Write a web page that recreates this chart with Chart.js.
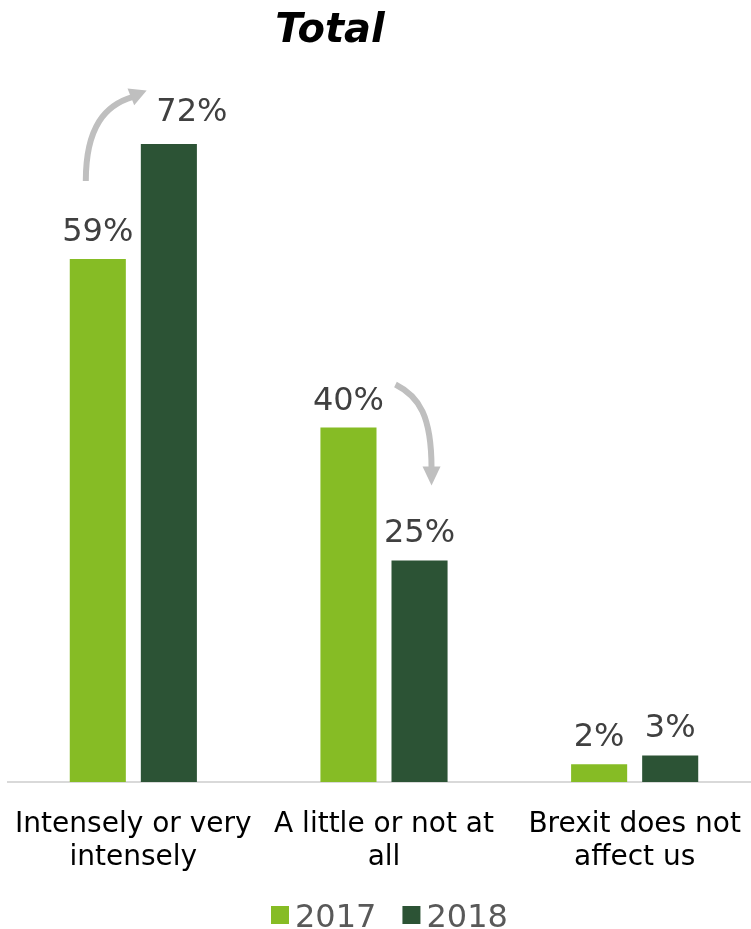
<!DOCTYPE html>
<html>
<head>
<meta charset="utf-8">
<script src="https://cdn.jsdelivr.net/npm/chart.js@4/dist/chart.umd.min.js"></script>
<style>
  html, body { margin: 0; padding: 0; background: #ffffff; overflow: hidden; }
  #wrap { width: 751px; height: 929px; overflow: hidden; position: relative; }
  canvas { display: block; }
</style>
</head>
<body>
<div id="wrap"><canvas id="c" width="760" height="929"></canvas></div>
<script>
// Survey answers: how intensely Brexit affects the business
const categories = [
  ['Intensely or very', 'intensely'],
  ['A little or not at', 'all'],
  ['Brexit does not', 'affect us']
];
const seriesNames = ['2017', '2018'];
const values2017 = [59, 40, 2];
const values2018 = [72, 25, 3];

const COLOR_2017 = '#86bc25';
const COLOR_2018 = '#2c5335';
const FONT = '"DejaVu Sans", Verdana, sans-serif';

// Percent labels above each bar; the 72% label is nudged right to leave room for the arrow
const valueLabels = {
  id: 'valueLabels',
  afterDatasetsDraw(chart) {
    const ctx = chart.ctx;
    ctx.save();
    ctx.font = '32px ' + FONT;
    ctx.fillStyle = '#404040';
    ctx.textAlign = 'center';
    ctx.textBaseline = 'alphabetic';
    chart.data.datasets.forEach((ds, di) => {
      chart.getDatasetMeta(di).data.forEach((el, i) => {
        let dx = 0, dy = 18;
        if (di === 1 && i === 0) { dx = 23; dy = 23; }
        ctx.fillText(ds.data[i] + '%', el.x + dx, el.y - dy);
      });
    });
    ctx.restore();
  }
};

// Curved grey arrows showing the change from 2017 to 2018
const changeArrows = {
  id: 'changeArrows',
  afterDatasetsDraw(chart) {
    const ctx = chart.ctx;
    const a = chart.getDatasetMeta(0).data;
    const b = chart.getDatasetMeta(1).data;
    ctx.save();
    ctx.strokeStyle = '#bfbfbf';
    ctx.fillStyle = '#bfbfbf';
    ctx.lineWidth = 6;
    ctx.lineCap = 'butt';

    function head(bx, by, ux, uy, len, half) {
      const px = -uy, py = ux;
      ctx.beginPath();
      ctx.moveTo(bx + ux * len, by + uy * len);
      ctx.lineTo(bx + px * half, by + py * half);
      ctx.lineTo(bx - px * half, by - py * half);
      ctx.closePath();
      ctx.fill();
    }

    // rising arrow over the first group
    const s1x = a[0].x - 12, s1y = a[0].y - 78;
    const e1x = b[0].x - 38, e1y = b[0].y - 47;
    ctx.beginPath();
    ctx.moveTo(s1x, s1y);
    ctx.bezierCurveTo(s1x, s1y - 55, s1x + 20, e1y + 8, e1x + 2, e1y);
    ctx.stroke();
    let ux = 15, uy = -6, n = Math.hypot(ux, uy);
    head(e1x, e1y, ux / n, uy / n, 17, 9);

    // falling arrow over the second group
    const s2x = a[1].x + 47, s2y = a[1].y - 43;
    const e2x = b[1].x + 12, e2y = b[1].y - 94;
    ctx.beginPath();
    ctx.moveTo(s2x, s2y);
    ctx.bezierCurveTo(s2x + 24, s2y + 12, e2x, e2y - 50, e2x, e2y + 2);
    ctx.stroke();
    head(e2x, e2y, 0, 1, 19, 9);
    ctx.restore();
  }
};

// Title and legend drawn at fixed spots on the canvas
const titleAndLegend = {
  id: 'titleAndLegend',
  afterDraw(chart) {
    const ctx = chart.ctx;
    ctx.save();
    ctx.fillStyle = '#000000';
    ctx.font = 'italic bold 40px ' + FONT;
    ctx.textAlign = 'center';
    ctx.textBaseline = 'alphabetic';
    ctx.fillText('Total', 330, 42);

    ctx.font = '32px ' + FONT;
    ctx.textAlign = 'left';
    let x = 271;
    chart.data.datasets.forEach(ds => {
      ctx.fillStyle = ds.backgroundColor;
      ctx.fillRect(x, 906, 18, 18);
      x += 18 + 6;
      ctx.fillStyle = '#595959';
      ctx.fillText(ds.label, x, 927);
      x += ctx.measureText(ds.label).width + 26;
    });
    ctx.restore();
  }
};

new Chart(document.getElementById('c'), {
  type: 'bar',
  data: {
    labels: categories,
    datasets: [
      { label: seriesNames[0], data: values2017, backgroundColor: COLOR_2017 },
      { label: seriesNames[1], data: values2018, backgroundColor: COLOR_2018 }
    ]
  },
  options: {
    responsive: false,
    devicePixelRatio: 1,
    animation: false,
    barPercentage: 0.789,
    categoryPercentage: 0.567,
    layout: { padding: { left: 8, right: 0, top: 73, bottom: 0 } },
    plugins: {
      legend: { display: false },
      title: { display: false },
      tooltip: { enabled: false }
    },
    scales: {
      x: {
        grid: { display: false, drawTicks: false },
        border: { display: true, color: '#d9d9d9', width: 2 },
        ticks: {
          color: '#000000',
          font: { family: FONT, size: 28, lineHeight: 1.18 },
          padding: 26,
          maxRotation: 0,
          autoSkip: false
        },
        afterFit(scale) {
          scale.height = 147;
          scale.paddingLeft = 0;
          scale.paddingRight = 0;
        }
      },
      y: {
        display: false,
        min: 0,
        max: 80
      }
    }
  },
  plugins: [valueLabels, changeArrows, titleAndLegend]
});
</script>
</body>
</html>
